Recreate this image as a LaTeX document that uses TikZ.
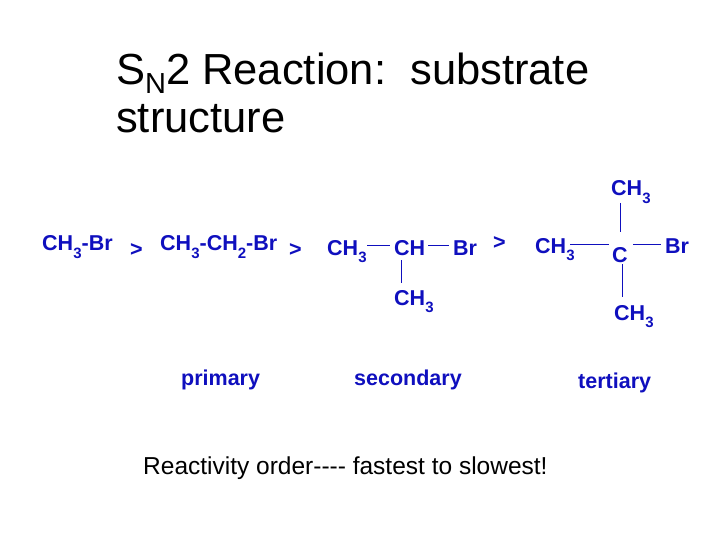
\documentclass[tikz,border=0pt]{standalone}
\usepackage{fontspec}
\setmainfont{Liberation Sans}[Ligatures=NoCommon]
\definecolor{chem}{RGB}{15,15,190}
\newcommand{\sbs}[1]{\raisebox{-0.35em}{\fontsize{15}{15}\selectfont #1}}
\begin{document}
\begin{tikzpicture}[x=1pt,y=-1pt,
 chm/.style={anchor=base west,inner sep=0pt,text=chem,font=\fontsize{21.5}{24}\selectfont\bfseries},
 bond/.style={draw=chem,line width=1pt},
 lab/.style={anchor=base west,inner sep=0pt,text=chem,font=\fontsize{21.5}{24}\selectfont\bfseries}]
\useasboundingbox (0,0) rectangle (720,540);
\node[anchor=base west,inner sep=0pt,font=\fontsize{43.5}{48}\selectfont] (t1) at (116,85) {S\raisebox{-0.2em}{\fontsize{29}{30}\selectfont N}2 Reaction:\ \ substrate};
\node[anchor=base west,inner sep=0pt,font=\fontsize{43.5}{48}\selectfont] (t2) at (116,133) {structure};
\node[chm] (a) at (42,251) {CH\sbs{3}-Br};
\node[chm] (g1) at (130,256) {>};
\node[chm] (b) at (160,251) {CH\sbs{3}-CH\sbs{2}-Br};
\node[chm] (g2) at (289,256) {>};
\node[chm] (c1) at (327,255) {CH\sbs{3}};
\node[chm] (c2) at (394,255) {CH};
\node[chm] (c3) at (453,255) {Br};
\node[chm] (c4) at (394,305) {CH\sbs{3}};
\coordinate (c1e) at (367,245); \coordinate (c2w) at (390,245);
\coordinate (c2e) at (428,245); \coordinate (c3w) at (449,245);
\coordinate (c2s) at (401,260); \coordinate (c4n) at (401,283);
\draw[bond] (c1e) -- (c2w); \draw[bond] (c2e) -- (c3w); \draw[bond] (c2s) -- (c4n);
\node[chm] (g3) at (493,249) {>};
\node[chm] (d1) at (535,253) {CH\sbs{3}};
\node[chm] (d2) at (612,262) {C};
\node[chm] (d3) at (665,254) {Br};
\node[chm] (d4) at (611,196) {CH\sbs{3}};
\node[chm] (d5) at (614,320) {CH\sbs{3}};
\coordinate (d1e) at (570,244); \coordinate (d2w) at (609,244);
\coordinate (d2e) at (633,244); \coordinate (d3w) at (661,244);
\coordinate (d4s) at (620,203); \coordinate (d2n) at (620,232);
\coordinate (d2s) at (622,264); \coordinate (d5n) at (622,297);
\draw[bond] (d1e) -- (d2w); \draw[bond] (d2e) -- (d3w);
\draw[bond] (d4s) -- (d2n); \draw[bond] (d2s) -- (d5n);
\node[lab] (p) at (181,385) {primary};
\node[lab] (s) at (354,385) {secondary};
\node[lab] (tt) at (578,388) {tertiary};
\node[anchor=base west,inner sep=0pt,font=\fontsize{24.5}{28}\selectfont] (r) at (143,474) {Reactivity order-{}-{}-{}- fastest to slowest!};
\end{tikzpicture}
\end{document}
